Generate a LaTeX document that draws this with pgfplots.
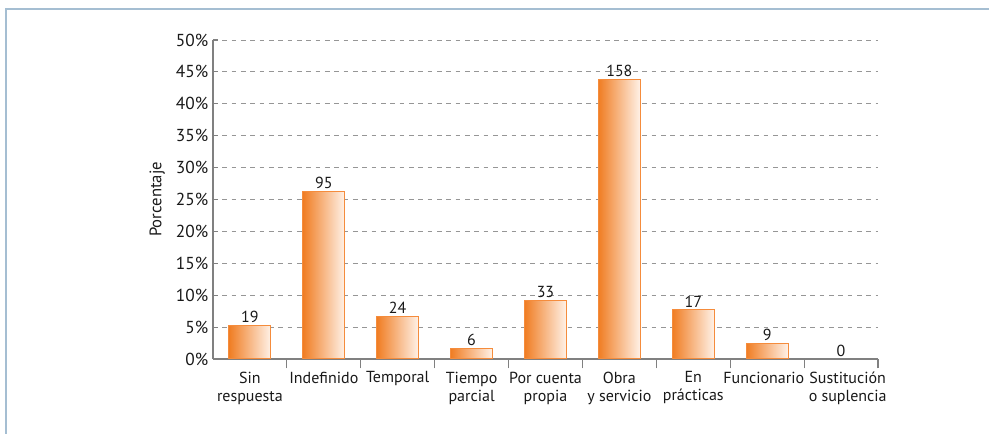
\documentclass[border=0pt]{standalone}
\usepackage{pgfplots}
\pgfplotsset{compat=1.18}
\usepackage{fontspec}
\setmainfont{PT Sans}
\definecolor{barL}{RGB}{240,125,35}
\definecolor{barR}{RGB}{255,242,232}
\definecolor{barE}{RGB}{245,140,60}
\definecolor{axisgray}{RGB}{128,128,128}
\definecolor{gridgray}{RGB}{150,150,150}
\definecolor{framec}{RGB}{165,190,210}
\definecolor{txt}{RGB}{25,25,25}

\begin{document}
\begin{tikzpicture}
% 1px = 0.75pt; axis box lower left at pixel (213,359)
\useasboundingbox (-159.75pt,-56.25pt) rectangle (582pt,269.25pt);
\draw[framec, line width=1.5pt] (-155.25pt,-70pt) -- (-155.25pt,262.5pt) -- (600pt,262.5pt);
\begin{axis}[
    at={(0,0)}, anchor=south west,
    scale only axis, width=498.75pt, height=239.25pt,
    xmin=-0.5, xmax=8.5, ymin=0, ymax=50,
    axis x line*=bottom, axis y line*=left,
    axis line style={axisgray, line width=0.8pt},
    xtick={0,...,8},
    xticklabels={{Sin\\respuesta},{Indefinido},{Temporal},{Tiempo\\parcial},{Por cuenta\\propia},{Obra\\y servicio},{En\\prácticas},{Funcionario\hspace*{5pt}},{\hspace*{10pt}Sustitución\\\hspace*{10pt}o suplencia}},
    major x tick style={draw=none},
    minor xtick={0.5,1.5,...,8.5},
    minor x tick style={axisgray, line width=0.8pt},
    minor tick length=7pt,
    xticklabel style={align=center, font=\fontsize{12}{13.5}\selectfont, text=txt, yshift=-2pt},
    ytick={0,5,...,50},
    yticklabel={\pgfmathprintnumber{\tick}\%},
    /pgf/number format/assume math mode=true,
    yticklabel style={font=\fontsize{13}{15}\selectfont, text=txt},
    major y tick style={axisgray, line width=0.8pt},
    major tick length=4pt,
    tick align=inside,
    ymajorgrids,
    grid style={gridgray, dash pattern=on 3.5pt off 3.5pt, line width=0.7pt},
    ylabel={Porcentaje},
    ylabel style={font=\fontsize{12.5}{15}\selectfont, text=txt, at={(axis description cs:-0.084,0.5)}, anchor=center},
    ybar, bar width=31.5pt, bar shift=0pt,
    nodes near coords,
    point meta=explicit symbolic,
    nodes near coords style={font=\fontsize{12}{14}\selectfont, text=txt, inner sep=1.5pt},
    bars/.style={draw=barE, line width=0.8pt, left color=barL, right color=barR},
]
\addplot[bars] coordinates {(0,5.3) [19]};
\addplot[bars] coordinates {(1,26.3) [95]};
\addplot[bars] coordinates {(2,6.7) [24]};
\addplot[bars] coordinates {(3,1.7) [6]};
\addplot[bars] coordinates {(4,9.2) [33]};
\addplot[bars] coordinates {(5,43.8) [158]};
\addplot[bars] coordinates {(6,7.7) [17]};
\addplot[bars] coordinates {(7,2.5) [9]};
\addplot[draw=none, fill=none] coordinates {(8,0) [0]};
\end{axis}
\end{tikzpicture}
\end{document}
